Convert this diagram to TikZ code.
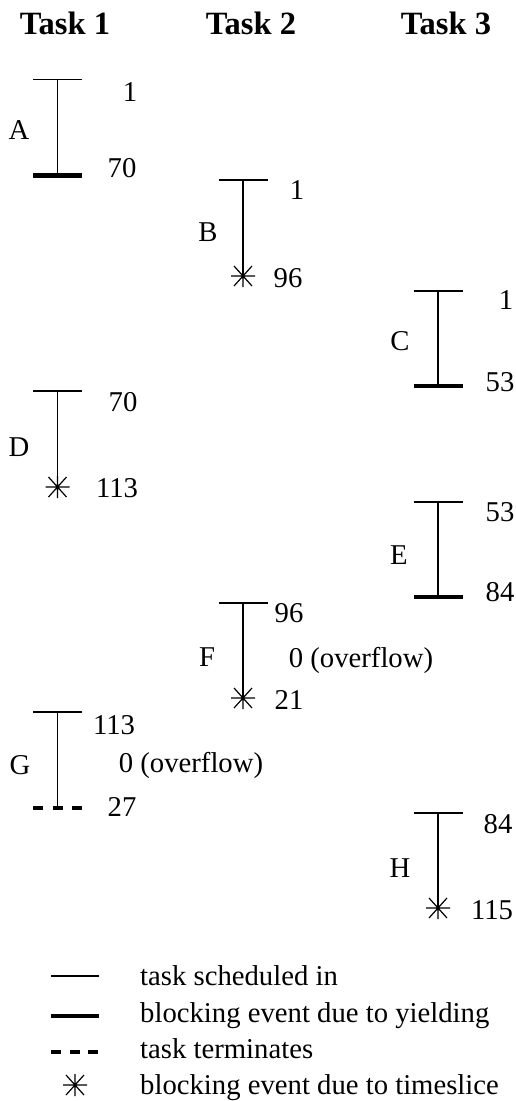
\documentclass[tikz,border=0pt]{standalone}
\usepackage{fontspec}
\setmainfont{Liberation Serif}
\begin{document}
\begin{tikzpicture}[x=1pt,y=-1pt,
  lbl/.style={font=\fontsize{28.7}{30}\selectfont, inner sep=0pt, anchor=base},
  lgd/.style={font=\fontsize{28.7}{30}\selectfont, inner sep=0pt, anchor=base west},
  hdr/.style={font=\fontsize{32.5}{34}\selectfont\bfseries, inner sep=0pt, anchor=base},
  thinln/.style={line width=1.6pt},
  thickln/.style={line width=4.5pt},
  termln/.style={line width=4.5pt, dash pattern=on 10pt off 9.5pt},
  tsstar/.pic={\draw[line width=1.2pt] (-12,0)--(12,0) (0,-11)--(0,11) (-9,-10)--(9,10) (-9,10)--(9,-10);}]
\useasboundingbox (0,0) rectangle (515,1101);

% headers
\node[hdr] (h1) at (65,34.5) {Task 1};
\node[hdr] (h2) at (251,34.5) {Task 2};
\node[hdr] (h3) at (446,34.5) {Task 3};

% A
\coordinate (At) at (57.5,79.5); \coordinate (Ab) at (57.5,175.5);
\draw[thinln] ([xshift=-24.5pt]At) -- ([xshift=24.5pt]At);
\draw[thinln] (At) -- (Ab);
\draw[thickln] ([xshift=-24.5pt]Ab) -- ([xshift=24.5pt]Ab);
\node[lbl] (A1) at (130,101) {1};
\node[lbl] (AL) at (19,139) {A};
\node[lbl] (A2) at (122,177) {70};

% B
\coordinate (Bt) at (243,180); \coordinate (Bb) at (243,276);
\draw[thinln] ([xshift=-24.5pt]Bt) -- ([xshift=24.5pt]Bt);
\draw[thinln] (Bt) -- (Bb);
\pic at (Bb) {tsstar};
\node[lbl] (B1) at (297,199) {1};
\node[lbl] (BL) at (208,241) {B};
\node[lbl] (B2) at (288,287) {96};

% C
\coordinate (Ct) at (438,291); \coordinate (Cb) at (438,386);
\draw[thinln] ([xshift=-24.5pt]Ct) -- ([xshift=24.5pt]Ct);
\draw[thinln] (Ct) -- (Cb);
\draw[thickln] ([xshift=-24.5pt]Cb) -- ([xshift=24.5pt]Cb);
\node[lbl] (C1) at (506,309) {1};
\node[lbl] (CL) at (400,350) {C};
\node[lbl] (C2) at (500,391) {53};

% D
\coordinate (Dt) at (57.5,391); \coordinate (Db) at (57.5,487);
\draw[thinln] ([xshift=-24.5pt]Dt) -- ([xshift=24.5pt]Dt);
\draw[thinln] (Dt) -- (Db);
\pic at (Db) {tsstar};
\node[lbl] (D1) at (123,411) {70};
\node[lbl] (DL) at (19,456) {D};
\node[lbl] (D2) at (117,497) {113};

% E
\coordinate (Et) at (438,502); \coordinate (Eb) at (438,597);
\draw[thinln] ([xshift=-24.5pt]Et) -- ([xshift=24.5pt]Et);
\draw[thinln] (Et) -- (Eb);
\draw[thickln] ([xshift=-24.5pt]Eb) -- ([xshift=24.5pt]Eb);
\node[lbl] (E1) at (500,521) {53};
\node[lbl] (EL) at (399,564) {E};
\node[lbl] (E2) at (500,601) {84};

% F
\coordinate (Ft) at (243,603); \coordinate (Fb) at (243,698);
\draw[thinln] ([xshift=-24.5pt]Ft) -- ([xshift=24.5pt]Ft);
\draw[thinln] (Ft) -- (Fb);
\pic at (Fb) {tsstar};
\node[lbl] (F1) at (289,622) {96};
\node[lbl] (FL) at (207,666) {F};
\node[lbl] (FO) at (361,667) {0 (overflow)};
\node[lbl] (F2) at (289,709) {21};

% G
\coordinate (Gt) at (57.5,712); \coordinate (Gb) at (57.5,808);
\draw[thinln] ([xshift=-24.5pt]Gt) -- ([xshift=24.5pt]Gt);
\draw[thinln] (Gt) -- (Gb);
\draw[termln] ([xshift=-24.5pt]Gb) -- ([xshift=24.5pt]Gb);
\node[lbl] (G1) at (114,734) {113};
\node[lbl] (GL) at (20,774) {G};
\node[lbl] (GO) at (191,772) {0 (overflow)};
\node[lbl] (G2) at (122,816) {27};

% H
\coordinate (Ht) at (438,813); \coordinate (Hb) at (438,908);
\draw[thinln] ([xshift=-24.5pt]Ht) -- ([xshift=24.5pt]Ht);
\draw[thinln] (Ht) -- (Hb);
\pic at (Hb) {tsstar};
\node[lbl] (H1) at (498,833) {84};
\node[lbl] (HL) at (400,877) {H};
\node[lbl] (H2) at (492,919) {115};

% legend
\coordinate (L1a) at (51,976); \coordinate (L1b) at (99,976);
\draw[thinln] (L1a) -- (L1b);
\node[lgd] (T1) at (140,985) {task scheduled in};
\coordinate (L2a) at (51,1016); \coordinate (L2b) at (99,1016);
\draw[thickln] (L2a) -- (L2b);
\node[lgd] (T2) at (140,1022) {blocking event due to yielding};
\coordinate (L3a) at (51,1052); \coordinate (L3b) at (98,1052);
\draw[line width=4.5pt, dash pattern=on 10pt off 8.5pt] (L3a) -- (L3b);
\node[lgd] (T3) at (140,1058) {task terminates};
\coordinate (L4) at (75,1085);
\pic at (L4) {tsstar};
\node[lgd] (T4) at (140,1094) {blocking event due to timeslice};
\end{tikzpicture}
\end{document}
